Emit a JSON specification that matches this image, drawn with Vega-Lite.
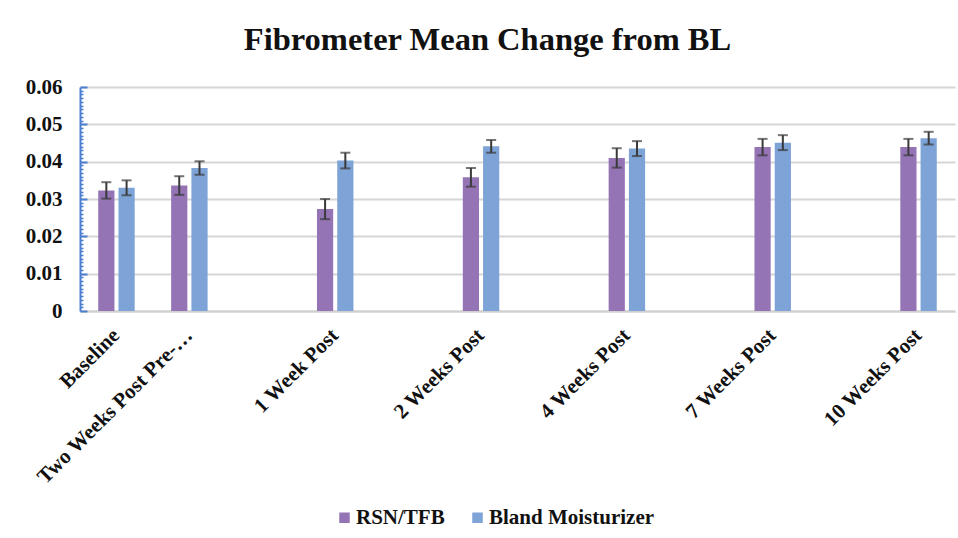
{
  "$schema": "https://vega.github.io/schema/vega-lite/v6.json",
  "width": 875,
  "height": 224,
  "autosize": {"type": "none"},
  "padding": {"left": 80, "top": 87, "right": 3, "bottom": 227},
  "background": "white",
  "title": {
    "text": "Fibrometer Mean Change from BL",
    "font": "Liberation Serif",
    "fontSize": 32.5,
    "fontWeight": "bold",
    "color": "#111111",
    "anchor": "middle",
    "dx": -30,
    "offset": 20
  },
  "config": {
    "view": {"stroke": null},
    "font": "Liberation Serif",
    "legend": {"labelFont": "Liberation Serif", "labelFontWeight": "bold", "labelFontSize": 21, "labelLimit": 400}
  },
  "resolve": {"axis": {"y": "independent"}},
  "data": {
    "values": [
      {"time": "Baseline", "series": "RSN/TFB", "mean": 0.0323, "lo": 0.0301, "hi": 0.0345},
      {"time": "Baseline", "series": "Bland Moisturizer", "mean": 0.0330, "lo": 0.0310, "hi": 0.0350},
      {"time": "Two Weeks Post Pre-…", "series": "RSN/TFB", "mean": 0.0336, "lo": 0.0311, "hi": 0.0361},
      {"time": "Two Weeks Post Pre-…", "series": "Bland Moisturizer", "mean": 0.0383, "lo": 0.0365, "hi": 0.0401},
      {"time": "1 Week Post", "series": "RSN/TFB", "mean": 0.0273, "lo": 0.0246, "hi": 0.0300},
      {"time": "1 Week Post", "series": "Bland Moisturizer", "mean": 0.0403, "lo": 0.0382, "hi": 0.0424},
      {"time": "2 Weeks Post", "series": "RSN/TFB", "mean": 0.0358, "lo": 0.0333, "hi": 0.0383},
      {"time": "2 Weeks Post", "series": "Bland Moisturizer", "mean": 0.0441, "lo": 0.0424, "hi": 0.0458},
      {"time": "4 Weeks Post", "series": "RSN/TFB", "mean": 0.0410, "lo": 0.0384, "hi": 0.0436},
      {"time": "4 Weeks Post", "series": "Bland Moisturizer", "mean": 0.0435, "lo": 0.0415, "hi": 0.0455},
      {"time": "7 Weeks Post", "series": "RSN/TFB", "mean": 0.0439, "lo": 0.0417, "hi": 0.0461},
      {"time": "7 Weeks Post", "series": "Bland Moisturizer", "mean": 0.0451, "lo": 0.0431, "hi": 0.0471},
      {"time": "10 Weeks Post", "series": "RSN/TFB", "mean": 0.0439, "lo": 0.0417, "hi": 0.0461},
      {"time": "10 Weeks Post", "series": "Bland Moisturizer", "mean": 0.0463, "lo": 0.0446, "hi": 0.0480}
    ]
  },
  "encoding": {
    "x": {
      "field": "time",
      "type": "nominal",
      "sort": null,
      "scale": {
        "domain": ["Baseline", "Two Weeks Post Pre-…", " ", "1 Week Post", "  ", "2 Weeks Post", "   ", "4 Weeks Post", "    ", "7 Weeks Post", "     ", "10 Weeks Post"],
        "paddingInner": 0.5,
        "paddingOuter": 0.25
      },
      "axis": {
        "title": null,
        "labelAngle": -45,
        "labelAlign": "right",
        "labelBaseline": "middle",
        "labelFont": "Liberation Serif",
        "labelFontSize": 21,
        "labelFontWeight": "bold",
        "labelColor": "#111111",
        "labelPadding": 21,
        "labelLimit": 300,
        "ticks": false,
        "domainColor": "#d0d0d0",
        "domainWidth": 2,
        "grid": false
      }
    },
    "xOffset": {
      "field": "series",
      "type": "nominal",
      "sort": ["RSN/TFB", "Bland Moisturizer"],
      "scale": {"paddingInner": 0.2, "paddingOuter": 0}
    }
  },
  "layer": [
    {
      "mark": {"type": "bar"},
      "encoding": {
        "y": {
          "field": "mean",
          "type": "quantitative",
          "scale": {"domain": [0, 0.06], "nice": false},
          "axis": {
            "title": null,
            "orient": "left",
            "values": [0, 0.01, 0.02, 0.03, 0.04, 0.05, 0.06],
            "labelOverlap": false,
            "labelExpr": "datum.value == 0 ? '0' : format(datum.value, '.2f')",
            "labelFont": "Liberation Serif",
            "labelFontSize": 21,
            "labelFontWeight": "bold",
            "labelColor": "#111111",
            "labelPadding": 25,
            "tickSize": -7,
            "tickColor": "#4a7fd0",
            "tickWidth": 2,
            "domainColor": "#4a7fd0",
            "domainWidth": 2,
            "gridColor": "#d6d6d6",
            "gridWidth": 2
          }
        },
        "color": {
          "field": "series",
          "type": "nominal",
          "sort": ["RSN/TFB", "Bland Moisturizer"],
          "scale": {"domain": ["RSN/TFB", "Bland Moisturizer"], "range": ["#9474b5", "#7ea3d6"]},
          "legend": {
            "title": null,
            "orient": "none",
            "direction": "horizontal",
            "legendX": 254,
            "legendY": 420,
            "symbolType": "square",
            "symbolSize": 110,
            "symbolStrokeWidth": 0,
            "labelFont": "Liberation Serif",
            "labelFontSize": 21,
            "labelFontWeight": "bold",
            "labelLimit": 400,
            "labelColor": "#111111",
            "columnPadding": 22,
            "labelOffset": 1
          }
        }
      }
    },
    {
      "mark": {"type": "rule", "color": "#3a3a3a", "strokeWidth": 2},
      "encoding": {
        "y": {
          "field": "lo",
          "type": "quantitative",
          "axis": {
            "title": null,
            "orient": "left",
            "values": [0.001, 0.002, 0.003, 0.004, 0.005, 0.006, 0.007, 0.008, 0.009, 0.011, 0.012, 0.013, 0.014, 0.015, 0.016, 0.017, 0.018, 0.019, 0.021, 0.022, 0.023, 0.024, 0.025, 0.026, 0.027, 0.028, 0.029, 0.031, 0.032, 0.033, 0.034, 0.035, 0.036, 0.037, 0.038, 0.039, 0.041, 0.042, 0.043, 0.044, 0.045, 0.046, 0.047, 0.048, 0.049, 0.051, 0.052, 0.053, 0.054, 0.055, 0.056, 0.057, 0.058, 0.059],
            "labels": false,
            "grid": false,
            "domain": false,
            "tickSize": -3,
            "tickColor": "#4a7fd0",
            "tickWidth": 1.5
          }
        },
        "y2": {"field": "hi"}
      }
    },
    {
      "mark": {"type": "tick", "color": "#3a3a3a", "thickness": 2, "size": 10, "orient": "horizontal"},
      "encoding": {
        "y": {"field": "lo", "type": "quantitative", "axis": null}
      }
    },
    {
      "mark": {"type": "tick", "color": "#3a3a3a", "thickness": 2, "size": 10, "orient": "horizontal"},
      "encoding": {
        "y": {"field": "hi", "type": "quantitative", "axis": null}
      }
    }
  ]
}
